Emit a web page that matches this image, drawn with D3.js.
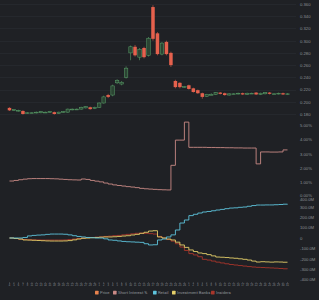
<!DOCTYPE html>
<html>
<head>
<meta charset="utf-8">
<script src="https://cdn.jsdelivr.net/npm/d3@7"></script>
<style>
  html, body { margin: 0; padding: 0; background: #1f2125; }
  svg { display: block; font-family: Roboto, sans-serif; }
</style>
</head>
<body>
<div id="chart"></div>
<script>
const dates = [
  '2021-01-04', '2021-01-05', '2021-01-06', '2021-01-07', '2021-01-08',
  '2021-01-11', '2021-01-12', '2021-01-13', '2021-01-14', '2021-01-15',
  '2021-01-18', '2021-01-19', '2021-01-20', '2021-01-21', '2021-01-22',
  '2021-01-25', '2021-01-26', '2021-01-27', '2021-01-28', '2021-01-29',
  '2021-02-01', '2021-02-02', '2021-02-03', '2021-02-04', '2021-02-05',
  '2021-02-08', '2021-02-09', '2021-02-10', '2021-02-11', '2021-02-12',
  '2021-02-15', '2021-02-16', '2021-02-17', '2021-02-18', '2021-02-19',
  '2021-02-22', '2021-02-23', '2021-02-24', '2021-02-25', '2021-02-26',
  '2021-03-01', '2021-03-02', '2021-03-03', '2021-03-04', '2021-03-05',
  '2021-03-08', '2021-03-09', '2021-03-10', '2021-03-11', '2021-03-12',
  '2021-03-15', '2021-03-16', '2021-03-17', '2021-03-18', '2021-03-19',
  '2021-03-22', '2021-03-23', '2021-03-24', '2021-03-25', '2021-03-26',
  '2021-03-29', '2021-03-30', '2021-03-31',
];

const open = [
  0.190, 0.186, 0.185, 0.185, 0.181, 0.182, 0.182, 0.182, 0.183, 0.183,
  0.183, 0.181, 0.183, 0.183, 0.187, 0.188, 0.188, 0.190, 0.191, 0.189,
  0.191, 0.198, 0.211, 0.211, 0.231, 0.229, 0.240, 0.280, 0.290, 0.273,
  0.288, 0.276, 0.355, 0.312, 0.278, 0.298, 0.280, 0.234, 0.231, 0.224,
  0.227, 0.222, 0.219, 0.214, 0.209, 0.212, 0.212, 0.215, 0.214, 0.211,
  0.213, 0.213, 0.214, 0.212, 0.214, 0.215, 0.212, 0.213, 0.215, 0.213,
  0.213, 0.214, 0.212,
];
const high = [
  0.191, 0.188, 0.187, 0.186, 0.183, 0.183, 0.184, 0.185, 0.184, 0.185,
  0.184, 0.184, 0.185, 0.189, 0.189, 0.189, 0.192, 0.193, 0.192, 0.192,
  0.199, 0.210, 0.213, 0.228, 0.237, 0.234, 0.258, 0.292, 0.293, 0.288,
  0.290, 0.306, 0.358, 0.314, 0.298, 0.300, 0.282, 0.236, 0.232, 0.226,
  0.228, 0.223, 0.220, 0.215, 0.213, 0.214, 0.216, 0.216, 0.215, 0.214,
  0.214, 0.215, 0.215, 0.215, 0.215, 0.216, 0.215, 0.216, 0.216, 0.214,
  0.215, 0.215, 0.214,
];
const low = [
  0.185, 0.185, 0.184, 0.179, 0.180, 0.181, 0.181, 0.181, 0.182, 0.182,
  0.179, 0.180, 0.182, 0.182, 0.186, 0.187, 0.187, 0.189, 0.187, 0.188,
  0.190, 0.197, 0.206, 0.209, 0.229, 0.227, 0.238, 0.268, 0.274, 0.268,
  0.271, 0.274, 0.300, 0.276, 0.276, 0.276, 0.257, 0.222, 0.222, 0.223,
  0.220, 0.215, 0.213, 0.205, 0.208, 0.211, 0.211, 0.212, 0.210, 0.210,
  0.212, 0.212, 0.211, 0.211, 0.213, 0.211, 0.211, 0.212, 0.212, 0.212,
  0.212, 0.211, 0.211,
];
const close = [
  0.186, 0.187, 0.186, 0.180, 0.182, 0.182, 0.183, 0.184, 0.183, 0.184,
  0.180, 0.183, 0.184, 0.188, 0.188, 0.188, 0.191, 0.192, 0.188, 0.191,
  0.198, 0.208, 0.208, 0.226, 0.235, 0.232, 0.255, 0.290, 0.276, 0.286,
  0.273, 0.304, 0.303, 0.278, 0.296, 0.278, 0.260, 0.224, 0.224, 0.225,
  0.221, 0.216, 0.214, 0.208, 0.212, 0.212, 0.215, 0.213, 0.211, 0.213,
  0.213, 0.214, 0.212, 0.214, 0.214, 0.212, 0.214, 0.215, 0.213, 0.213,
  0.214, 0.212, 0.213,
];

// short interest, percent
const shortInterest = [
  1.11, 1.15, 1.20, 1.24, 1.27, 1.28, 1.28, 1.28, 1.28, 1.27,
  1.26, 1.24, 1.22, 1.20, 1.19, 1.18, 1.25, 1.22, 1.15, 1.10,
  1.05, 0.97, 0.90, 0.84, 0.80, 0.76, 0.72, 0.69, 0.65, 0.60,
  0.57, 0.55, 0.53, 0.51, 0.50, 0.49, 2.20, 3.95, 3.95, 5.20,
  3.45, 3.45, 3.45, 3.45, 3.44, 3.44, 3.43, 3.43, 3.42, 3.42,
  3.41, 3.41, 3.40, 3.40, 3.40, 2.30, 3.13, 3.13, 3.12, 3.12,
  3.13, 3.27, 3.27,
];

// net flows, millions
const retail = [
  0, 0, 0, 5, 20, 25, 28, 30, 35, 38,
  38, 38, 36, 30, 22, 15, 10, 5, 3, 0,
  0, -8, -19, -22, -28, -33, -36, -38, -40, -42,
  -55, -67, -65, -19, -10, 10, 30, 77, 144, 173,
  215, 228, 240, 250, 255, 262, 269, 275, 282, 288,
  290, 295, 298, 305, 312, 317, 317, 318, 318, 320,
  322, 325, 327,
];
const investmentBanks = [
  0, -5, -10, -19, -20, -22, -24, -26, -28, -29,
  -29, -29, -28, -25, -18, -10, -3, 0, 3, 5,
  8, 10, 10, 12, 15, 19, 22, 29, 35, 45,
  55, 67, 70, 10, 0, -10, -19, -40, -67, -90,
  -115, -130, -144, -150, -160, -172, -183, -185, -188, -192,
  -195, -200, -205, -212, -222, -231, -228, -230, -232, -230,
  -231, -233, -233,
];
const insiders = [
  0, -5, -12, -15, -17, -18, -19, -20, -20, -20,
  -20, -20, -19, -15, -10, -5, 0, 3, 5, 8,
  10, 15, 18, 22, 25, 30, 35, 40, 45, 47,
  45, 42, 38, 15, 0, -15, -30, -55, -87, -120,
  -150, -163, -180, -205, -212, -222, -232, -240, -248, -255,
  -260, -265, -270, -275, -279, -282, -284, -286, -288, -290,
  -293, -296, -298,
];

const priceTicks = [0.36, 0.34, 0.32, 0.30, 0.28, 0.26, 0.24, 0.22, 0.20, 0.18];
const siTicks = [5, 4, 3, 2, 1, 0];
const flowTicks = [400, 300, 200, 100, 0, -100, -200, -300, -400];

const legendItems = ['Price', 'Short Interest %', 'Retail', 'Investment Banks', 'Insiders'];
const legendColors = ['#e8834e', '#c98a86', '#5ec4dd', '#e4cf6a', '#a8362b'];

const width = 319;
const height = 300;
const bg = '#1f2125';
const textColor = '#8d9197';
const up = '#5aa26a';
const down = '#e5614d';

const parse = d3.timeParse('%Y-%m-%d');
const days = dates.map(parse);

const svg = d3.select('#chart')
  .append('svg')
  .attr('width', width)
  .attr('height', height);

svg.append('rect').attr('width', width).attr('height', height).attr('fill', bg);

const x = d3.scaleBand()
  .domain(d3.range(dates.length))
  .range([6.75, 290.25])
  .padding(0.22);
const cx = (i) => x(i) + x.bandwidth() / 2;

const yPrice = d3.scaleLinear().domain([0.18, 0.36]).range([114, 4]);
const ySi = d3.scaleLinear().domain([0, 5]).range([197, 125]);
const yFlow = d3.scaleLinear().domain([-400, 400]).range([279.6, 196.4]);

// price grid
svg.append('g')
  .selectAll('line')
  .data(priceTicks)
  .join('line')
  .attr('x1', 0)
  .attr('x2', 296)
  .attr('y1', (d) => Math.round(yPrice(d)) + 0.5)
  .attr('y2', (d) => Math.round(yPrice(d)) + 0.5)
  .attr('stroke', '#2a2d32')
  .attr('stroke-width', 0.6);

// right axes
const axisStyle = (g) => {
  g.select('.domain').remove();
  g.selectAll('.tick line').remove();
  g.selectAll('.tick text')
    .attr('fill', textColor)
    .attr('font-size', 4.2)
    .attr('x', 3);
};

svg.append('g')
  .attr('transform', 'translate(297,0)')
  .call(d3.axisRight(yPrice).tickValues(priceTicks).tickFormat(d3.format('.3f')))
  .call(axisStyle);

svg.append('g')
  .attr('transform', 'translate(297,0)')
  .call(d3.axisRight(ySi).tickValues(siTicks).tickFormat((d) => `${d.toFixed(2)}%`))
  .call(axisStyle)
  .selectAll('.tick text')
  .filter((d) => d === 0)
  .attr('dy', '-0.2em');

svg.append('g')
  .attr('transform', 'translate(297,0)')
  .call(d3.axisRight(yFlow).tickValues(flowTicks)
    .tickFormat((d) => (d === 0 ? '0' : `${d.toFixed(1)}M`)))
  .call(axisStyle)
  .selectAll('.tick text')
  .filter((d) => d === 400)
  .attr('dy', '1.05em');

// candles
const idx = d3.range(dates.length);
const candles = svg.append('g');
candles.selectAll('line')
  .data(idx)
  .join('line')
  .attr('x1', (i) => cx(i))
  .attr('x2', (i) => cx(i))
  .attr('y1', (i) => yPrice(high[i]))
  .attr('y2', (i) => yPrice(low[i]))
  .attr('stroke', (i) => (close[i] >= open[i] ? up : down))
  .attr('stroke-width', 0.6);

candles.selectAll('rect')
  .data(idx)
  .join('rect')
  .attr('x', (i) => x(i))
  .attr('width', x.bandwidth())
  .attr('y', (i) => yPrice(Math.max(open[i], close[i])))
  .attr('height', (i) => Math.max(0.8, Math.abs(yPrice(open[i]) - yPrice(close[i]))))
  .attr('fill', (i) => (close[i] >= open[i] ? '#2b4433' : down))
  .attr('stroke', (i) => (close[i] >= open[i] ? up : 'none'))
  .attr('stroke-width', 0.5);

// lines
const stepLine = (yScale, values) => d3.line()
  .x((i) => cx(i))
  .y((i) => yScale(values[i]))
  .curve(d3.curveStepAfter)(idx);

svg.append('path')
  .attr('d', stepLine(ySi, shortInterest))
  .attr('fill', 'none')
  .attr('stroke', legendColors[1])
  .attr('stroke-width', 0.9);

[[insiders, legendColors[4]], [investmentBanks, legendColors[3]], [retail, legendColors[2]]]
  .forEach(([values, color]) => {
    svg.append('path')
      .attr('d', stepLine(yFlow, values))
      .attr('fill', 'none')
      .attr('stroke', color)
      .attr('stroke-width', 0.9);
  });

// time axis
const xAxis = d3.axisBottom(x)
  .tickSize(1.5)
  .tickFormat((i) => d3.timeFormat('%-d')(days[i]));
const gx = svg.append('g')
  .attr('transform', 'translate(0,282)')
  .call(xAxis);
gx.select('.domain').remove();
gx.selectAll('.tick line').attr('stroke', '#5d6167').attr('stroke-width', 0.5);
gx.selectAll('.tick text')
  .attr('fill', textColor)
  .attr('font-size', 2.6)
  .attr('y', 2);

// legend
const legendX = [95, 113, 153, 172, 211];
const legend = svg.append('g').attr('transform', 'translate(0,293)');
const item = legend.selectAll('g')
  .data(legendItems)
  .join('g')
  .attr('transform', (d, i) => `translate(${legendX[i]},0)`);
item.append('rect')
  .attr('x', 0)
  .attr('y', -2.2)
  .attr('width', 3.6)
  .attr('height', 3.6)
  .attr('rx', 0.4)
  .attr('fill', (d, i) => legendColors[i]);
item.append('text')
  .attr('x', 5)
  .attr('y', 1.3)
  .attr('fill', textColor)
  .attr('font-size', 4.2)
  .text((d) => d);
</script>
</body>
</html>
